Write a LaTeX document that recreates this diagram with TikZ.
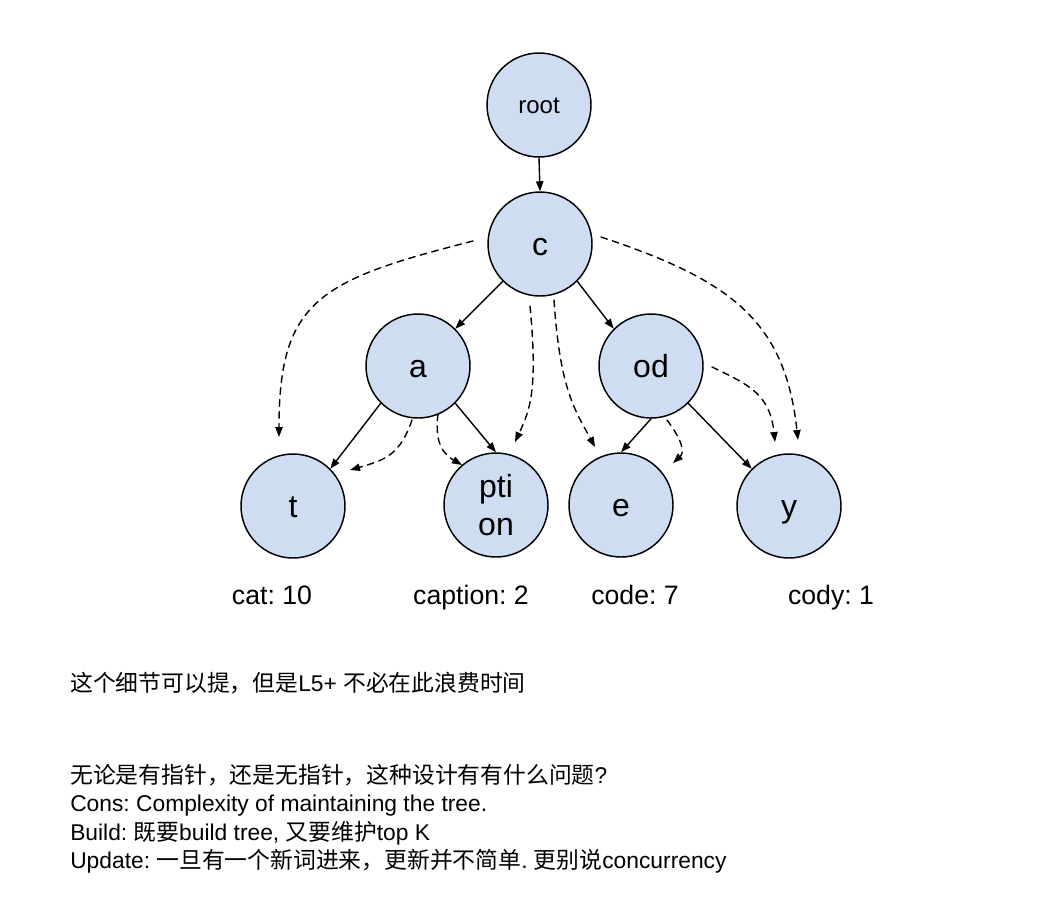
\documentclass[tikz,border=0pt]{standalone}
\usepackage{fontspec}
\setmainfont{Liberation Sans}
\newfontfamily\cjk{Noto Sans CJK SC}
\usepackage{tikz}
\usetikzlibrary{arrows.meta, calc, positioning}
\usepackage{xcolor}
\definecolor{trieblue}{RGB}{207,221,243}
\frenchspacing

\begin{document}
\begin{tikzpicture}[x=0.75pt, y=-0.75pt, line cap=round, line join=round, >={Triangle[length=7.5pt,width=5.5pt]},
	trie/.style={circle, draw=black, line width=1.1pt, fill=trieblue, minimum size=78pt, inner sep=0pt, font=\fontsize{24}{28.5}\selectfont},
	onechar/.style={text height=16.5pt, text depth=0pt},
	countlbl/.style={anchor=base, font=\fontsize{20}{23.5}\selectfont},
	notetext/.style={anchor=base west, inner sep=0pt, font=\fontsize{17.1}{21.4}\selectfont},
	edgeline/.style={->, line width=1.05pt},
	jumpline/.style={->, line width=1.05pt, dash pattern=on 5pt off 4pt}]
	\useasboundingbox (0,0) rectangle (1044,904);
	
	% trie nodes
	\node[trie, text height=12pt, text depth=0pt, font=\fontsize{18}{21}\selectfont] (root) at (539,105) {root};
	\node[trie, onechar] (c) at (540,244) {c};
	\node[trie, onechar] (a) at (418,366) {a};
	\node[trie, onechar] (od) at (651,366) {od};
	\node[trie, onechar] (t) at (293,506) {t};
	\node[trie, align=center] (pti) at (496,505) {pti\\on};
	\node[trie, onechar] (e) at (621,505) {e};
	\node[trie, onechar] (y) at (789,506) {y};
	
	% tree edges
	\draw[edgeline] (root.south) -- (c.north);
	\draw[edgeline] (c.south west) -- (a.north east);
	\draw[edgeline] (c.south east) -- (od.north west);
	\draw[edgeline] (a.south west) -- (t.north east);
	\draw[edgeline] (a.south east) -- (pti.north);
	\draw[edgeline] (od.south) -- (e.north);
	\draw[edgeline] (od.south east) -- (y.north west);
	
	% ends of the dashed shortcuts
	\coordinate (cW) at (473,241);
	\coordinate (cS1) at (530,306);
	\coordinate (cS2) at (554,300);
	\coordinate (cE) at (601,237);
	\coordinate (aS1) at (412,420);
	\coordinate (aS2) at (438,414);
	\coordinate (odE) at (712,367);
	\coordinate (odS) at (667,420);
	\coordinate (tN) at (279,437);
	\coordinate (tE) at (350,470);
	\coordinate (ptiW) at (462,465);
	\coordinate (ptiN) at (515,442);
	\coordinate (eN) at (595,447);
	\coordinate (eE) at (673,463);
	\coordinate (yN1) at (775,442);
	\coordinate (yN2) at (798,440);
	
	% dashed shortcuts
	\draw[jumpline] (cW) .. controls (320,280) and (279,300) .. (tN);
	\draw[jumpline] (cS1) .. controls (538,390) and (530,410) .. (ptiN);
	\draw[jumpline] (cS2) .. controls (560,390) and (575,410) .. (eN);
	\draw[jumpline] (cE) .. controls (730,280) and (785,320) .. (yN2);
	\draw[jumpline] (aS1) .. controls (400,455) and (385,460) .. (tE);
	\draw[jumpline] (aS2) .. controls (434,445) and (445,455) .. (ptiW);
	\draw[jumpline] (odE) .. controls (750,385) and (770,395) .. (yN1);
	\draw[jumpline] (odS) .. controls (682,440) and (685,452) .. (eE);
	
	% counts
	\node[countlbl] (cat) at (272,604) {cat: 10};
	\node[countlbl] (caption) at (471,604) {caption: 2};
	\node[countlbl] (code) at (635,604) {code: 7};
	\node[countlbl] (cody) at (831,604) {cody: 1};
	
	% notes
	\node[notetext] (note1) at (70,691) {{\cjk 这个细节可以提，但是}L5+ {\cjk 不必在此浪费时间}};
	\node[notetext] (note2) at (70,783) {{\cjk 无论是有指针，还是无指针，这种设计有有什么问题}?};
	\node[notetext] (note3) at (70,811.5) {Cons: Complexity of maintaining the tree.};
	\node[notetext] (note4) at (70,840) {Build: {\cjk 既要}build tree, {\cjk 又要维护}top K};
	\node[notetext] (note5) at (70,868.5) {Update: {\cjk 一旦有一个新词进来，更新并不简单}. {\cjk 更别说}concurrency};

\end{tikzpicture}
\end{document}
